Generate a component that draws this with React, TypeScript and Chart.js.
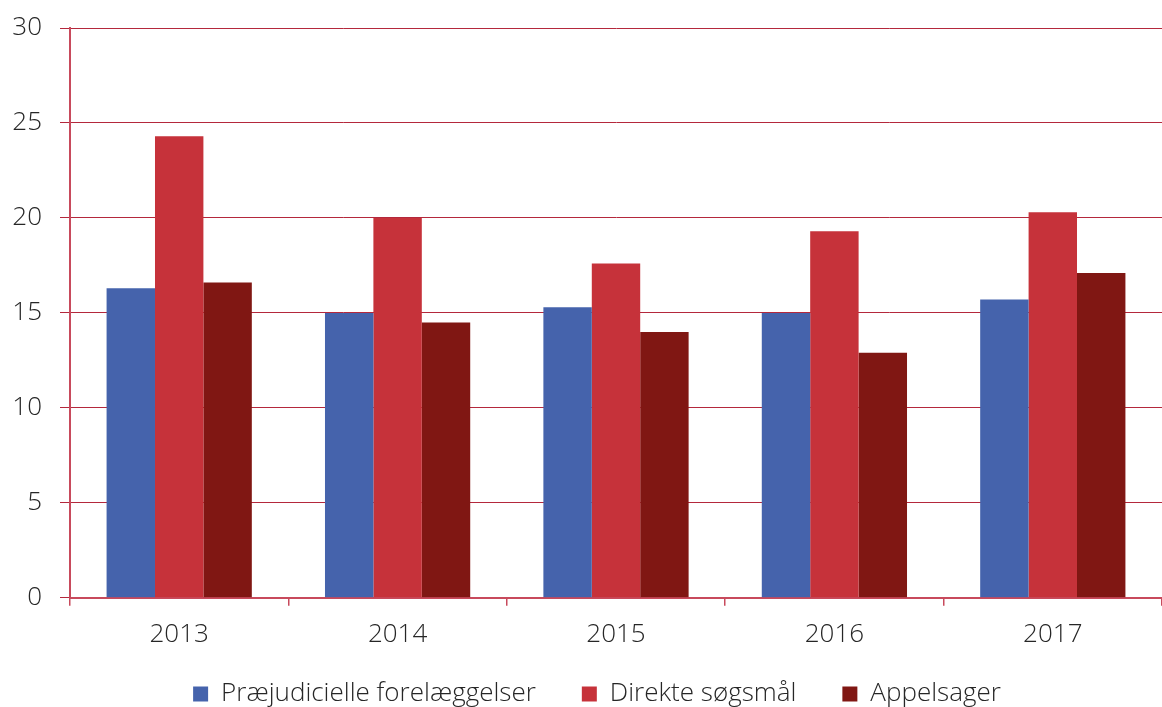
import React, { useEffect, useRef } from "react";
import { Chart, registerables } from "chart.js";

Chart.register(...registerables);

const years = ["2013", "2014", "2015", "2016", "2017"];
const praejudicielle = [16.3, 15.0, 15.3, 15.0, 15.7];
const direkte = [24.3, 20.0, 17.6, 19.3, 20.3];
const appelsager = [16.6, 14.5, 14.0, 12.9, 17.1];
const yTicks = [0, 5, 10, 15, 20, 25, 30];

const gridColor = "#b4283c";
const axisColor = "#c84a5c";
const textColor = "#262626";
const fontFamily = "'Open Sans', sans-serif";
const fontSize = 26;

const legendShift = {
  id: "legendShift",
  afterLayout(chart: any) {
    const l = chart.legend;
    if (l) {
      l.top -= 28;
      l.bottom -= 28;
      l.left += 10;
      l.right += 10;
    }
  },
};

export default function App() {
  const ref = useRef<HTMLCanvasElement | null>(null);
  useEffect(() => {
    if (!ref.current) return;
    const chart = new Chart(ref.current, {
      type: "bar",
      data: {
        labels: years,
        datasets: [
          { label: "Præjudicielle forelæggelser", data: praejudicielle, backgroundColor: "#4563ac" },
          { label: "Direkte søgsmål", data: direkte, backgroundColor: "#c6323a" },
          { label: "Appelsager", data: appelsager, backgroundColor: "#801713" },
        ],
      },
      plugins: [legendShift],
      options: {
        animation: false,
        responsive: false,
        maintainAspectRatio: false,
        datasets: { bar: { barPercentage: 1, categoryPercentage: 0.665 } },
        layout: { padding: { top: 28, left: 12, right: 0, bottom: -38 } },
        plugins: {
          tooltip: { enabled: false },
          legend: {
            position: "bottom",
            labels: {
              boxWidth: 15,
              boxHeight: 15,
              padding: 46,
              color: textColor,
              font: { family: fontFamily, size: fontSize, weight: 300 },
            },
          },
        },
        scales: {
          x: {
            grid: {
              offset: true,
              drawOnChartArea: false,
              drawTicks: true,
              tickLength: 8,
              color: axisColor,
              lineWidth: 1.5,
            },
            border: { display: true, color: axisColor, width: 2 },
            ticks: {
              color: textColor,
              padding: 13,
              font: { family: fontFamily, size: fontSize, weight: 300 },
            },
          },
          y: {
            min: 0,
            max: 30,
            afterBuildTicks: (axis: any) => {
              axis.ticks = yTicks.map((v) => ({ value: v }));
            },
            afterFit: (scale: any) => {
              scale.width = 58;
              scale.paddingTop = 0;
              scale.paddingBottom = 0;
            },
            grid: {
              color: gridColor,
              lineWidth: 1,
              tickLength: 10,
              drawTicks: true,
            },
            border: { display: true, color: axisColor, width: 2 },
            ticks: {
              color: textColor,
              padding: 18,
              font: { family: fontFamily, size: fontSize, weight: 300, lineHeight: 1 },
            },
          },
        },
      },
    });
    return () => chart.destroy();
  }, []);
  return (
    <div style={{ position: "fixed", left: 0, top: 0, width: 1162, height: 707, background: "#fff" }}>
      <canvas ref={ref} width={1162} height={707} style={{ display: "block" }} />
    </div>
  );
}
